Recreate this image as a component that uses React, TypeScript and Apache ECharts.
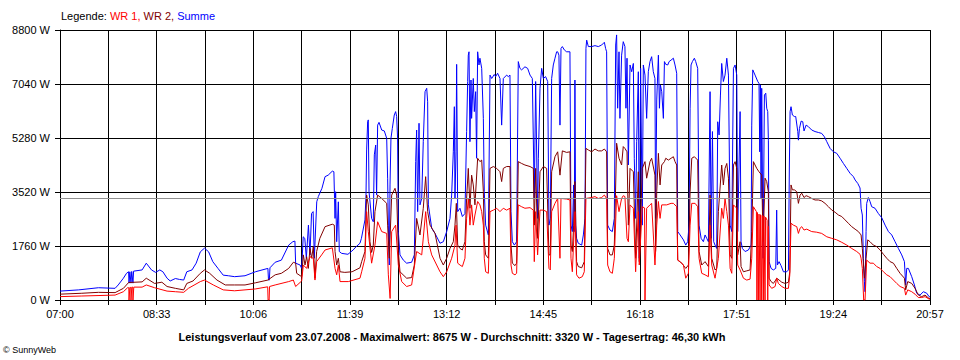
import React, { useEffect, useRef } from "react";
import * as echarts from "echarts";

// x values: minutes after 07:00, y values: W
const xLabels = ["07:00", "08:33", "10:06", "11:39", "13:12", "14:45", "16:18", "17:51", "19:24", "20:57"];
const xSpanMin = 837;
const xGridStep = 46.5;
const yMax = 8800;
const yStep = 1760;
const average = 3320;
const titleText =
  "Leistungsverlauf vom 23.07.2008 - Maximalwert: 8675 W - Durchschnitt: 3320 W - Tagesertrag: 46,30 kWh";

const summe: [number, number][] = [
[0,290],[18,330],[37,400],[53,380],[56,490],[61,710],[64,870],[66,920],[66.4,550],[67.2,920],[68.3,550],[69,930],[70.2,550],[70.8,940],[79,980],[83,1200],[88,980],[92,900],[96,980],[99,920],[103,710],[106,620],[111,700],[115,670],[119,650],[122,920],[127,980],[131,1200],[135,1570],[139,1690],[143,1570],[147,1250],[152,1030],[157,810],[162,790],[168,760],[178,790],[188,920],[200,1030],[200.6,650],[201.4,650],[202,1050],[207,1230],[213,1300],[220,1790],[224,1900],[226,1920],[226.7,1200],[231,1140],[232.5,1030],[234,2060],[235.5,2010],[237,1360],[239,2440],[240.5,1470],[242,2820],[243.5,2880],[244.7,1360],[247,3200],[248.5,3370],[252,3640],[255,4020],[258,4070],[262,4200],[263.5,4180],[264.6,2660],[265.2,3530],[266.2,1900],[267.8,3200],[268.7,1580],[271,1520],[277,1490],[282,1630],[285,1740],[288.6,1850],[290,2010],[293.4,2610],[294.4,3420],[295,4890],[296,5810],[296.6,5870],[297.3,3530],[299.8,2660],[301.4,2550],[302.4,4730],[303.7,5050],[304.6,3420],[305.6,5700],[306.9,5790],[309.5,5540],[312,5510],[314.3,5270],[315.2,3970],[315.9,2440],[316.8,1140],[317.5,3750],[318.4,5270],[319.7,5590],[321.6,6030],[322.9,6140],[323.9,5980],[324.8,5270],[325.5,2230],[327.1,1470],[330.3,1300],[333.5,1200],[338.3,1230],[340.9,1470],[342.2,4510],[343.1,5540],[344.1,2880],[345.4,5760],[346.3,3100],[348,3310],[349.5,5160],[351.2,6790],[352.8,6900],[353.7,6460],[354.4,3100],[357.6,2340],[360.8,2170],[365.6,1850],[368.8,1900],[372,2230],[375.2,2660],[376.8,3420],[378.4,4830],[379.4,6300],[380,3310],[381,4830],[381.6,7680],[382.6,2880],[384.8,2990],[387.1,2720],[389.6,2820],[391.2,5490],[392.2,7120],[392.8,7980],[393.5,8090],[394.4,5160],[395.4,7170],[396,5920],[397.6,7220],[398.6,6140],[399.9,6790],[400.8,4620],[401.8,8090],[403.1,7660],[404,7880],[405.7,7550],[407.3,5920],[408.2,3530],[409.5,2440],[412.1,2120],[413.7,7330],[415.3,7220],[417.8,7350],[419.1,7280],[421,7390],[423.3,7220],[424.9,5700],[426.5,7220],[429.7,7330],[431.3,7280],[432.9,7330],[433.9,2880],[435.2,1900],[437.1,1790],[439.3,1900],[440.9,7770],[442.5,7550],[444.1,7500],[447.3,7600],[449.9,7550],[452.2,7330],[454.4,7220],[456.3,3310],[457.6,7120],[459.5,2660],[460.2,4620],[461.8,6900],[463.4,7550],[465,7220],[467.2,7280],[469.2,7120],[470.4,2440],[471.7,2660],[473,7220],[474.6,7660],[476.2,7880],[477.8,8090],[478.8,8090],[480,7980],[481,5700],[482,8200],[483.3,8260],[485.2,8150],[487.4,8090],[490.6,8090],[491.6,2440],[492.9,2230],[494.2,3750],[494.8,2230],[495.4,7170],[496.1,2440],[497,2010],[498.6,1850],[501.9,1790],[503.5,2120],[505.1,2660],[506,8200],[506.7,8470],[508.3,8260],[511.5,8260],[514.7,8290],[517.9,8260],[521.1,8310],[523.7,8400],[524.9,8200],[525.9,8090],[526.9,2440],[529.1,2280],[531.4,2230],[533.3,2660],[534.6,8310],[535.5,8640],[536.5,6250],[537.8,8090],[538.7,5920],[540.3,7980],[541.9,8420],[543.5,8260],[544.5,6250],[545.5,7880],[546.8,4400],[548.4,7660],[550,7440],[551.6,7710],[552.5,4620],[553.8,2660],[554.8,5160],[556.4,7440],[557.3,1360],[558.6,7550],[560.2,2440],[561.2,7660],[562.8,7330],[564.4,5920],[566,7440],[567.6,7770],[569.2,7930],[570.8,7440],[572.4,7220],[573,2660],[574.1,6520],[575.7,7980],[576.7,6250],[577.6,7010],[578.9,6790],[580.5,5920],[581.5,7770],[582.8,7680],[584.7,7660],[586,7770],[587.9,7820],[590.1,7880],[591.7,7660],[593.3,7390],[594.3,2230],[596.6,2120],[599.8,1960],[602,1790],[603.9,1900],[605.2,2440],[606.2,6250],[607.1,7660],[608.4,7770],[610.3,7880],[611.6,7770],[613.5,7550],[614.8,2440],[616.8,2010],[619,1900],[620.6,2120],[622.2,2010],[623.8,1900],[625.4,6790],[626.4,2010],[627.7,5490],[628.9,1900],[630.2,1790],[631.8,1680],[632.8,5810],[634.1,5380],[635.4,6680],[636.6,7710],[638.2,7120],[639.8,7330],[641.5,7880],[643.1,7330],[644.7,2440],[646.3,2230],[647.9,7550],[649.5,7660],[651.1,7330],[652,2230],[654.3,6140],[655.2,1900],[656.5,1680],[659.1,1580],[662.3,1630],[664.9,1790],[665.5,5700],[666.5,7500],[668.7,7330],[671.3,7120],[672.5,7060],[673.2,4830],[673.8,7010],[674.5,3310],[675.1,6900],[676.4,1360],[677.7,6680],[679,6740],[679.9,6250],[680.9,6140],[681.5,5210],[682.2,1250],[684.1,1030],[686.3,980],[688.6,1030],[689.5,2930],[690.2,1140],[691.8,1250],[693.7,1120],[696,920],[699.2,920],[700.8,980],[701.7,4400],[702.4,6140],[703.3,6300],[704.6,6030],[706.5,5980],[707.8,5980],[709.8,5490],[710.4,5210],[711.4,5590],[713,5830],[714.6,5810],[715.8,5510],[717.8,5700],[720,5650],[723.2,5540],[726.4,5490],[729.6,5460],[732.8,5430],[735.4,5320],[737.7,5160],[740.9,4940],[744.1,4830],[747.3,4780],[750.5,4620],[753.7,4450],[756.9,4290],[760.1,4130],[763.3,4020],[765,3910],[767.5,3800],[769.7,3650],[770.7,2990],[771.9,2770],[772.9,1360],[773.9,600],[774.5,270],[775.5,2230],[776.1,3150],[777.7,3340],[779.3,3210],[780.9,3040],[784.1,2990],[787.3,2820],[790.6,2680],[793.8,2440],[797,2230],[800.2,2120],[803.4,1900],[806.6,1680],[809.8,1470],[812.4,1250],[813.6,490],[814.6,1030],[816.2,1030],[819.4,760],[822,490],[824.2,220],[827.4,160],[830.6,270],[833.9,220],[836.1,110],[837,100]
];

const wr2: [number, number][] = [
[0,190],[21,220],[37,250],[53,240],[61,380],[66,570],[79,590],[83,710],[91,540],[98,580],[103,440],[111,380],[119,330],[122,540],[128,620],[135,870],[139,980],[144,870],[151,650],[159,490],[168,490],[178,490],[188,560],[200,650],[207,820],[213,870],[220,1030],[224.5,1230],[226.7,1200],[227.7,870],[232.5,760],[234.1,1470],[235.7,1140],[237.3,1410],[238.9,1030],[240.5,1680],[242.1,1360],[243.7,1740],[245.3,710],[246.9,1580],[250,2010],[255,2390],[262,2470],[263.9,2440],[264.6,1580],[266.2,1140],[267.8,1360],[269.4,920],[274,900],[281,920],[288.6,1050],[290.2,1250],[293.4,1580],[295,3420],[296.6,3100],[298.2,1900],[299.8,1550],[301.4,1790],[303,2880],[305.6,3420],[309.5,3310],[314.3,3150],[315.2,2440],[316.8,1360],[319.1,3420],[322.3,3640],[323.9,3420],[325.5,1580],[327.1,920],[333.5,710],[338.3,730],[340.9,1140],[343.1,2660],[346.3,2120],[349.5,2990],[351.8,4020],[353.7,2880],[356,2440],[360.8,2170],[365.6,1360],[368.8,1140],[372,1360],[375.2,1680],[378.4,1900],[380,2440],[381.3,3150],[382.6,1790],[384.8,1680],[387.1,1630],[389.6,1900],[391.2,3310],[392.8,4290],[394.4,2990],[396,4070],[397.6,3750],[399.2,3100],[401.8,4620],[404,4510],[405.7,4560],[407.3,3530],[408.2,1900],[409.5,1470],[412.1,1360],[413.7,4290],[416.9,4350],[420.1,4290],[423.3,4180],[424.9,3860],[426.5,4290],[429.7,4350],[432.9,4350],[433.9,1790],[435.2,1200],[437.7,1120],[439.3,1200],[440.9,4510],[444.1,4450],[447.3,4400],[452.2,4350],[455.4,4290],[456.3,2440],[457.6,4290],[459.5,2010],[461.8,4180],[465,4350],[468.2,4290],[470.4,1470],[471.7,1470],[473,4180],[476.2,4670],[478.8,4830],[481,4070],[483.3,4860],[487.4,4810],[490.6,4830],[491.6,1790],[492.9,1580],[494.2,2440],[495.4,3860],[497,1250],[498.6,1090],[501.9,1050],[504.4,1250],[506,4940],[508.3,4890],[511.5,4830],[514.7,4920],[517.9,4860],[521.1,4860],[523.7,4920],[525.9,4830],[526.9,1680],[529.1,1470],[531.4,1470],[533.3,1790],[535.5,5110],[537.8,4620],[540.3,4400],[541.9,5000],[543.5,4940],[545.5,4830],[546.8,2440],[548.4,4290],[551.6,4180],[553.8,1360],[556.4,4180],[557.3,1250],[560.2,4290],[562.8,4510],[564.4,3970],[567.6,4510],[569.2,4620],[572.4,4070],[573,1580],[574.1,3530],[575.7,4780],[577.3,3750],[578.9,4400],[581.5,4510],[582.8,4620],[585.3,4560],[587.9,4620],[590.1,4670],[591.7,4510],[593.3,4400],[594.3,1300],[598.2,1200],[602,1030],[604.6,1140],[606.2,3530],[607.8,4620],[610.3,4670],[613.5,4560],[614.8,1580],[617.4,1140],[620.6,1250],[623.8,1090],[625.4,3420],[627,1360],[630.2,980],[631.8,1030],[633.4,2880],[636.6,4400],[638.2,3750],[639.8,4290],[641.5,4450],[643.1,3970],[644.7,1470],[646.3,1360],[647.9,4400],[649.5,4510],[651.1,4290],[652,1470],[654.3,1900],[655.2,1090],[657.5,920],[660.7,950],[663.9,980],[665.5,2230],[667.1,4510],[670.3,4290],[672.5,4180],[675.1,4070],[676.4,1900],[678.3,3970],[679.9,3860],[681.5,3530],[682.2,710],[684.1,600],[686.3,540],[688.6,650],[689.5,710],[691.8,650],[694.4,580],[697.6,540],[700.8,580],[702.1,920],[703.3,3750],[704.6,3590],[706.5,3590],[708.8,3530],[710.4,3150],[712,3420],[713.6,3480],[715.8,3340],[717.8,3400],[720,3370],[723.2,3310],[726.4,3260],[729.6,3260],[732.8,3230],[736,3150],[739.3,3040],[742.5,2930],[745.7,2860],[748.9,2770],[752.1,2720],[755.3,2610],[758.5,2500],[761.7,2390],[764.9,2310],[768.1,2230],[770.7,2120],[771.9,1680],[773.9,710],[775.5,1360],[777.1,1960],[779.3,1900],[782.5,1790],[785.7,1740],[789,1630],[792.2,1490],[795.4,1360],[798.6,1250],[801.8,1200],[805,1030],[808.2,870],[812.4,710],[813.6,330],[815.6,600],[819.4,540],[822.6,380],[825.8,160],[829,110],[832.2,160],[836.1,50],[837,50]
];

const wr1: [number, number][] = [
[0,110],[21,130],[53,160],[61,270],[65,400],[66.2,400],[66.4,0],[67,0],[67.2,410],[68.1,410],[68.3,0],[68.9,0],[69.1,420],[70,420],[70.2,0],[70.7,0],[71,420],[79,420],[83,490],[91,400],[103,290],[111,270],[119,250],[123.5,380],[135,600],[139,650],[147.5,490],[157,330],[168,300],[188,360],[199.8,430],[200.2,0],[201.2,0],[201.6,440],[207,490],[220,600],[224.5,650],[226.7,440],[232.5,620],[234.1,1140],[237.3,1030],[240.5,1410],[243.7,1360],[245.3,650],[246.9,1250],[251.7,1470],[255,1630],[262,1700],[264.6,1030],[266.2,820],[267.8,1140],[269.4,600],[277.4,600],[288.6,710],[290.2,920],[293.4,1360],[295,2880],[296.6,2230],[299.8,1200],[303,1790],[305.6,2550],[309.5,2230],[314.3,2170],[315.9,820],[317.6,50],[318.1,50],[319.1,2230],[322.9,2440],[325.5,1140],[328.7,600],[333.5,440],[338.3,490],[343.1,1580],[348,1470],[351.8,2880],[354.4,1900],[357.6,1470],[365.6,920],[368.8,760],[372,920],[376.8,1360],[380,1790],[381,2440],[382.6,1200],[384.8,1140],[387.1,1090],[389.6,1360],[391.2,2660],[392.8,3310],[394.4,2440],[396,3100],[397.6,2440],[399.2,2770],[401.8,3210],[404,3100],[405.7,2880],[407.3,2440],[408.2,1360],[409.5,920],[412.1,870],[413.7,2880],[416.9,2930],[420.1,2990],[423.3,2880],[426.5,2990],[429.7,2930],[432.9,2990],[433.9,1140],[435.2,870],[437.7,820],[439.3,870],[440.9,3100],[444.1,3040],[447.3,2990],[452.2,3010],[455.4,2930],[456.3,1250],[457.6,2880],[459.5,1470],[461.8,2930],[465,2930],[468.2,2880],[470.4,1030],[471.7,980],[473,2880],[476.2,3150],[478.8,3310],[481,1360],[482,3310],[487.4,3290],[490.6,3260],[491.6,1360],[492.9,920],[495.4,2880],[497,820],[499.3,710],[502.5,760],[504.4,920],[506,3310],[511.5,3340],[514.7,3370],[517.9,3310],[521.1,3340],[523.7,3420],[525.9,3310],[526.9,1140],[529.1,920],[531.4,870],[533.3,1360],[535.5,3400],[537.8,2880],[540.3,3310],[541.9,3400],[543.5,3370],[545.5,2010],[546.8,1900],[548.4,3100],[551.6,2990],[553.8,920],[556.4,2880],[557.3,1140],[560.2,3040],[562.4,3000],[562.8,0],[563.4,0],[564.4,2990],[567.6,3100],[569.2,3150],[572.4,1140],[574.1,2440],[575.7,3210],[577.3,2660],[578.9,3100],[583.7,3100],[587.9,3150],[590.1,3150],[593.3,3040],[594.3,1300],[596.6,1250],[599.8,1140],[602,710],[604.6,870],[606.2,2440],[607.8,3150],[611,3150],[613.5,3040],[614.8,1360],[617.4,870],[620.6,820],[623.8,760],[625.4,2440],[627,1140],[630.2,710],[633.4,1360],[636.6,2990],[638.2,2660],[639.8,3310],[641.5,2880],[643.1,2440],[644.7,1030],[646.3,870],[647.9,3100],[651.1,2990],[652,1140],[654.3,980],[657.5,710],[660.7,650],[663.9,680],[665.5,1360],[667.1,3040],[670,2880],[670.5,0],[671,2850],[671.9,0],[672.5,2800],[673.5,0],[674,2780],[675.1,0],[675.6,2760],[676.7,0],[677.2,2740],[678.3,0],[678.8,2700],[680.3,2600],[680.9,0],[681.5,2400],[682.2,490],[684.7,380],[688,440],[689.5,710],[691.1,540],[694.4,440],[697.6,380],[700.8,380],[702.1,820],[703.3,2500],[705.6,2440],[708.8,2390],[710.4,2170],[712,2340],[713.6,2390],[715.8,2280],[718.4,2310],[723.2,2230],[728,2210],[732.8,2170],[737.7,2060],[742.5,2010],[747.3,1960],[752.1,1880],[756.9,1790],[761.7,1680],[766.5,1580],[769.7,1490],[770.7,1360],[771.9,1030],[773.2,0],[774.5,0],[776.1,1300],[779.3,1200],[782.5,1200],[785.7,1090],[789,1030],[792.2,920],[795.4,820],[798.6,760],[801.8,650],[805,540],[808.2,440],[812.4,380],[813.6,160],[815.6,330],[819.4,270],[822.6,190],[825.8,80],[829,80],[832.2,110],[836.1,30],[837,30]
];

const FONT = "'Liberation Sans', Arial, sans-serif";

export default function App() {
  const ref = useRef<HTMLDivElement>(null);
  useEffect(() => {
    if (!ref.current) return;
    const chart = echarts.init(ref.current, undefined, { renderer: "svg" });
    const lineSeries = (name: string, color: string, data: [number, number][], extra: any = {}) => ({
      name,
      type: "line",
      data,
      symbol: "none",
      showSymbol: false,
      silent: true,
      lineStyle: { color, width: 1 },
      itemStyle: { color },
      ...extra,
    });
    chart.setOption({
      animation: false,
      backgroundColor: "#ffffff",
      textStyle: { fontFamily: FONT },
      grid: { left: 60, top: 30, width: 870, height: 270, containLabel: false },
      xAxis: {
        type: "value",
        min: 0,
        max: xSpanMin,
        interval: xGridStep,
        axisLine: { show: true, lineStyle: { color: "#000", width: 1 } },
        axisTick: { show: true, length: 5, lineStyle: { color: "#000", width: 1 } },
        splitLine: { show: true, lineStyle: { color: "#000", width: 1 } },
        axisLabel: {
          color: "#000",
          fontSize: 11,
          fontFamily: FONT,
          margin: 8,
          showMinLabel: true,
          showMaxLabel: true,
          formatter: (v: number) => {
            const k = Math.round(v / xGridStep);
            return k % 2 === 0 ? xLabels[k / 2] ?? "" : "";
          },
        },
      },
      yAxis: {
        type: "value",
        min: 0,
        max: yMax,
        interval: yStep,
        axisLine: { show: true, lineStyle: { color: "#000", width: 1 } },
        axisTick: { show: true, length: 5, lineStyle: { color: "#000", width: 1 } },
        splitLine: { show: true, lineStyle: { color: "#000", width: 1 } },
        axisLabel: {
          color: "#000",
          fontSize: 11,
          fontFamily: FONT,
          margin: 10,
          formatter: (v: number) => `${v} W`,
        },
      },
      graphic: [
        {
          type: "text",
          left: 61,
          top: 10,
          style: {
            text: "{k|Legende: }{a|WR 1, }{b|WR 2, }{c|Summe}",
            font: `11px ${FONT}`,
            rich: {
              k: { fill: "#000", fontSize: 11, fontFamily: FONT },
              a: { fill: "#ff0000", fontSize: 11, fontFamily: FONT },
              b: { fill: "#800000", fontSize: 11, fontFamily: FONT },
              c: { fill: "#0000ff", fontSize: 11, fontFamily: FONT },
            },
          },
        },
        {
          type: "text",
          x: 452,
          y: 337,
          style: {
            text: titleText,
            fill: "#000",
            font: `bold 11px ${FONT}`,
            textAlign: "center",
            textVerticalAlign: "middle",
          },
        },
        {
          type: "text",
          x: 3,
          y: 350,
          style: {
            text: "© SunnyWeb",
            fill: "#000",
            font: `9px ${FONT}`,
            textAlign: "left",
            textVerticalAlign: "middle",
          },
        },
      ],
      series: [
        lineSeries("Summe", "#0000ff", summe, {
          markLine: {
            silent: true,
            symbol: "none",
            label: { show: false },
            lineStyle: { color: "#909090", type: "solid", width: 1 },
            data: [{ yAxis: average }],
          },
        }),
        lineSeries("WR 2", "#800000", wr2),
        lineSeries("WR 1", "#ff0000", wr1),
      ],
    });
    return () => chart.dispose();
  }, []);
  return (
    <div
      ref={ref}
      style={{ position: "fixed", left: 0, top: 0, width: 960, height: 360, background: "#fff" }}
    />
  );
}
